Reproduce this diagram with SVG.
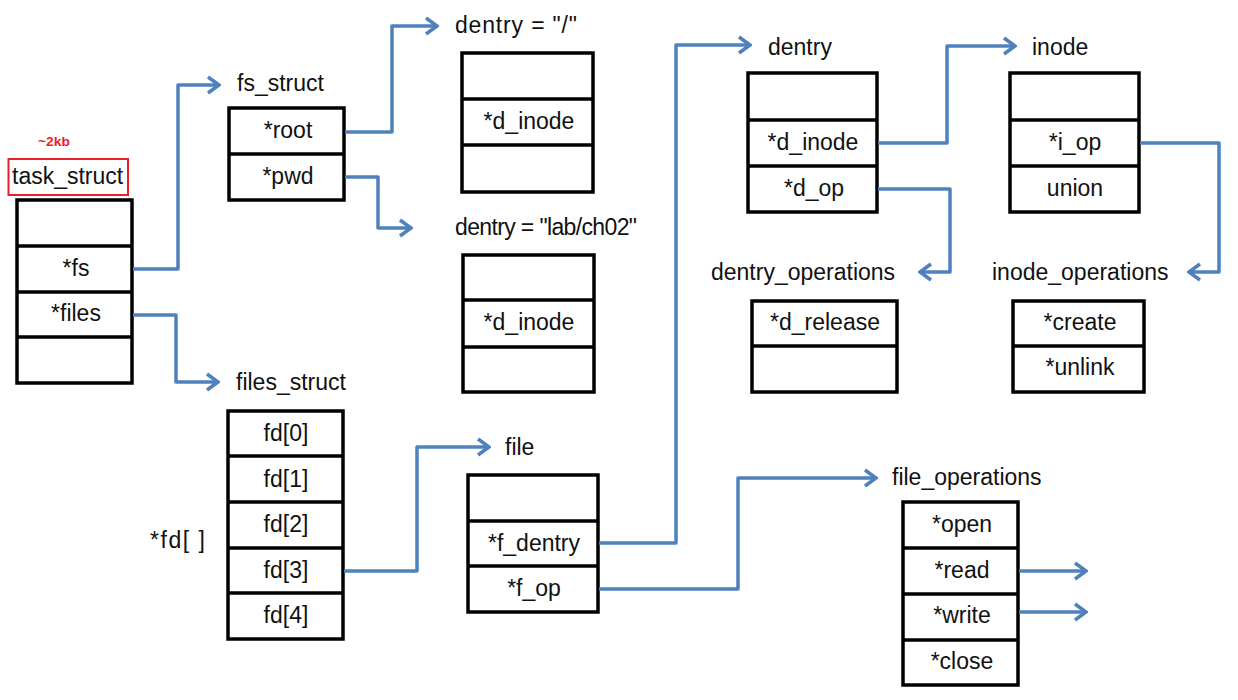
<svg xmlns="http://www.w3.org/2000/svg" width="1238" height="700" viewBox="0 0 1238 700">
<style>
.box{fill:#fff;stroke:#000;stroke-width:3.5}
.sep{stroke:#000;stroke-width:3.5}
.t{font-family:"Liberation Sans",Arial,sans-serif;font-size:23px;fill:#111}
.c{text-anchor:middle}
.con{fill:none;stroke:#4f81bd;stroke-width:3.5;stroke-linejoin:round}
</style>
<defs>
<marker id="arr" viewBox="-14 -10 16 20" refX="0" refY="0" markerWidth="16" markerHeight="20" markerUnits="userSpaceOnUse" orient="auto">
<path d="M-11,-8 L0,0 L-11,8" fill="none" stroke="#4f81bd" stroke-width="3.5"/>
</marker>
</defs>
<rect width="1238" height="700" fill="#fff"/>

<g id="task_struct">
<text x="38" y="146" font-family="Liberation Sans,Arial,sans-serif" font-size="13" font-weight="bold" fill="#e8202a" textLength="32" lengthAdjust="spacingAndGlyphs">~2kb</text>
<rect x="8.5" y="159" width="119.5" height="36" fill="none" stroke="#e8202a" stroke-width="2"/>
<text class="t" x="12" y="184">task_struct</text>
<rect class="box" x="17" y="200" width="115" height="183"/>
<line class="sep" x1="17" y1="246" x2="132" y2="246"/>
<line class="sep" x1="17" y1="292" x2="132" y2="292"/>
<line class="sep" x1="17" y1="337" x2="132" y2="337"/>
<text class="t c" x="76" y="276">*fs</text>
<text class="t c" x="76" y="321">*files</text>
</g>

<g id="fs_struct">
<text class="t" x="237" y="91">fs_struct</text>
<rect class="box" x="229" y="108" width="115" height="92"/>
<line class="sep" x1="229" y1="154" x2="344" y2="154"/>
<text class="t c" x="288" y="138">*root</text>
<text class="t c" x="288" y="184">*pwd</text>
</g>

<g id="dentry_root">
<text class="t" x="455" y="33" textLength="122">dentry = "/"</text>
<rect class="box" x="462" y="53" width="131" height="139"/>
<line class="sep" x1="462" y1="99" x2="593" y2="99"/>
<line class="sep" x1="462" y1="145" x2="593" y2="145"/>
<text class="t c" x="529" y="129">*d_inode</text>
</g>

<g id="dentry_pwd">
<text class="t" x="455" y="235" textLength="182" lengthAdjust="spacing">dentry = "lab/ch02"</text>
<rect class="box" x="463" y="255" width="131" height="137"/>
<line class="sep" x1="463" y1="300" x2="594" y2="300"/>
<line class="sep" x1="463" y1="347" x2="594" y2="347"/>
<text class="t c" x="529" y="330">*d_inode</text>
</g>

<g id="files_struct">
<text class="t" x="236" y="390">files_struct</text>
<text class="t" x="150" y="548" textLength="55">*fd[ ]</text>
<rect class="box" x="228" y="411" width="115" height="228"/>
<line class="sep" x1="228" y1="456" x2="343" y2="456"/>
<line class="sep" x1="228" y1="502" x2="343" y2="502"/>
<line class="sep" x1="228" y1="548" x2="343" y2="548"/>
<line class="sep" x1="228" y1="593" x2="343" y2="593"/>
<text class="t c" x="286" y="441">fd[0]</text>
<text class="t c" x="286" y="487">fd[1]</text>
<text class="t c" x="286" y="532">fd[2]</text>
<text class="t c" x="286" y="578">fd[3]</text>
<text class="t c" x="286" y="623">fd[4]</text>
</g>

<g id="file">
<text class="t" x="505" y="455">file</text>
<rect class="box" x="468" y="475" width="130" height="137"/>
<line class="sep" x1="468" y1="521" x2="598" y2="521"/>
<line class="sep" x1="468" y1="566" x2="598" y2="566"/>
<text class="t c" x="534" y="551">*f_dentry</text>
<text class="t c" x="534" y="596">*f_op</text>
</g>

<g id="dentry">
<text class="t" x="768" y="55">dentry</text>
<rect class="box" x="748" y="73" width="129" height="139"/>
<line class="sep" x1="748" y1="120" x2="877" y2="120"/>
<line class="sep" x1="748" y1="166" x2="877" y2="166"/>
<text class="t c" x="813" y="150">*d_inode</text>
<text class="t c" x="814" y="196">*d_op</text>
</g>

<g id="inode">
<text class="t" x="1032" y="55">inode</text>
<rect class="box" x="1010" y="73" width="129" height="139"/>
<line class="sep" x1="1010" y1="120" x2="1139" y2="120"/>
<line class="sep" x1="1010" y1="166" x2="1139" y2="166"/>
<text class="t c" x="1075" y="150">*i_op</text>
<text class="t c" x="1075" y="196">union</text>
</g>

<g id="dentry_operations">
<text class="t" x="711" y="280">dentry_operations</text>
<rect class="box" x="752" y="301" width="145" height="91"/>
<line class="sep" x1="752" y1="346" x2="897" y2="346"/>
<text class="t c" x="825" y="330">*d_release</text>
</g>

<g id="inode_operations">
<text class="t" x="992" y="280">inode_operations</text>
<rect class="box" x="1013" y="301" width="131" height="91"/>
<line class="sep" x1="1013" y1="346" x2="1144" y2="346"/>
<text class="t c" x="1080" y="330">*create</text>
<text class="t c" x="1080" y="375">*unlink</text>
</g>

<g id="file_operations">
<text class="t" x="892" y="485">file_operations</text>
<rect class="box" x="903" y="502" width="115" height="183"/>
<line class="sep" x1="903" y1="548" x2="1018" y2="548"/>
<line class="sep" x1="903" y1="594" x2="1018" y2="594"/>
<line class="sep" x1="903" y1="640" x2="1018" y2="640"/>
<text class="t c" x="962" y="532">*open</text>
<text class="t c" x="962" y="578">*read</text>
<text class="t c" x="962" y="623">*write</text>
<text class="t c" x="962" y="669">*close</text>
</g>

<g id="connectors">
<polyline class="con" points="133,269 178,269 178,85 219,85" marker-end="url(#arr)"/>
<polyline class="con" points="133,315 176,315 176,382 218,382" marker-end="url(#arr)"/>
<polyline class="con" points="345,132 392,132 392,26 437,26" marker-end="url(#arr)"/>
<polyline class="con" points="345,177 378,177 378,228 411,228" marker-end="url(#arr)"/>
<polyline class="con" points="344,571 417,571 417,447 489,447" marker-end="url(#arr)"/>
<polyline class="con" points="599,543 676,543 676,45 750,45" marker-end="url(#arr)"/>
<polyline class="con" points="599,589 738,589 738,478 876,478" marker-end="url(#arr)"/>
<polyline class="con" points="878,143 947,143 947,46 1015,46" marker-end="url(#arr)"/>
<polyline class="con" points="878,189 950,189 950,272 920,272" marker-end="url(#arr)"/>
<polyline class="con" points="1140,143 1219,143 1219,272 1189,272" marker-end="url(#arr)"/>
<polyline class="con" points="1019,571 1086,571" marker-end="url(#arr)"/>
<polyline class="con" points="1019,612 1086,612" marker-end="url(#arr)"/>
</g>
</svg>
